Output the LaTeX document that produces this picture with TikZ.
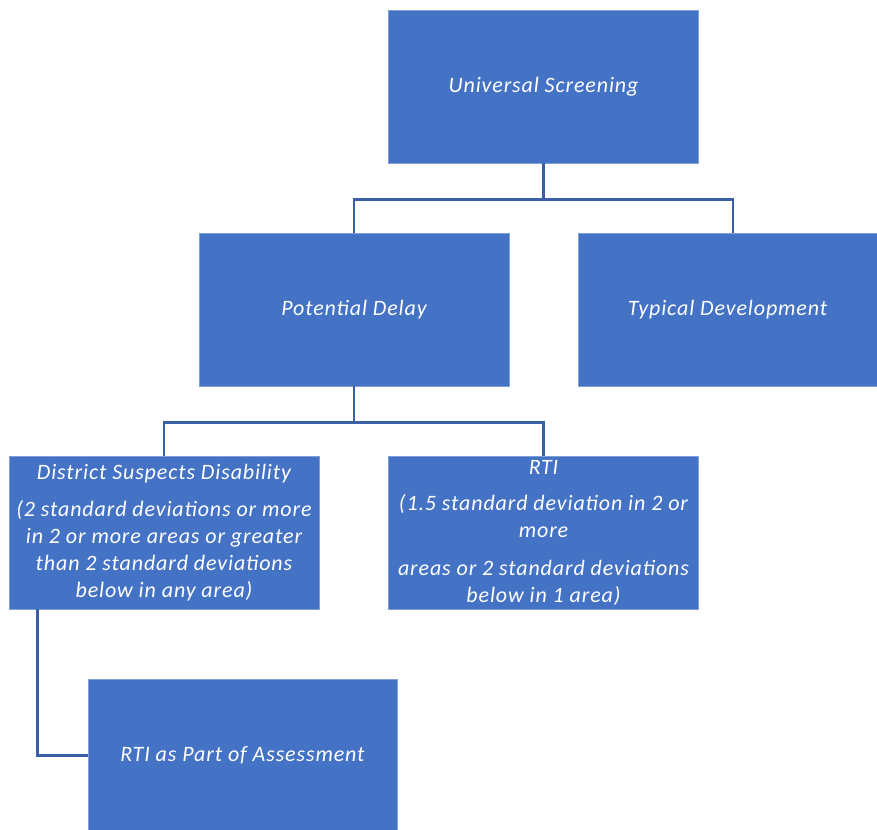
\documentclass[tikz,border=0pt]{standalone}
\usepackage{fontspec}
\setmainfont{Carlito}[LetterSpace=4]
\definecolor{boxblue}{HTML}{4472C4}
\definecolor{rimblue}{HTML}{7F9FD8}
\definecolor{edgeblue}{HTML}{3A5FA8}
\begin{document}
\begin{tikzpicture}[x=0.5pt,y=-0.5pt,
    box/.style={fill=boxblue,draw=rimblue,line width=0.4pt,
      minimum width=155pt,minimum height=76.5pt,inner sep=2pt,
      text=white,align=center,font=\itshape\fontsize{11}{13.5}\selectfont},
    link/.style={draw=edgeblue,line width=1.3pt}]
    \useasboundingbox (0,0) rectangle (877,829);
    \clip (0,0) rectangle (877,829);

    \node[box] (us) at (543.5,86.5) {Universal Screening};
    \node[box] (pd) at (354,309.5) {Potential Delay};
    \node[box,minimum width=149.5pt] (td) at (727.5,309.5) {Typical Development};
    \node[box] (dsd) at (164,532.5) {District Suspects Disability\\[5pt]
      (2 standard deviations or more\\ in 2 or more areas or greater\\
      than 2 standard deviations\\ below in any area)};
    \node[box] (rti) at (543.5,532.5) {RTI\\[4.5pt]
      (1.5 standard deviation in 2 or\\ more\\[5.5pt]
      areas or 2 standard deviations\\ below in 1 area)};
    \node[box,minimum width=154.5pt] (rpa) at (242.5,755.5) {RTI as Part of Assessment};

    \foreach \a / \b / \s in {us/pd/0, us/td/2.75, pd/dsd/0, pd/rti/0} {
      \path[link] (\a.south) -- ++(0,36) -| ([xshift=\s pt]\b.north);
    }
    \path[link] ([xshift=14.5pt]dsd.south west) |- (rpa.west);
  \end{tikzpicture}
\end{document}
